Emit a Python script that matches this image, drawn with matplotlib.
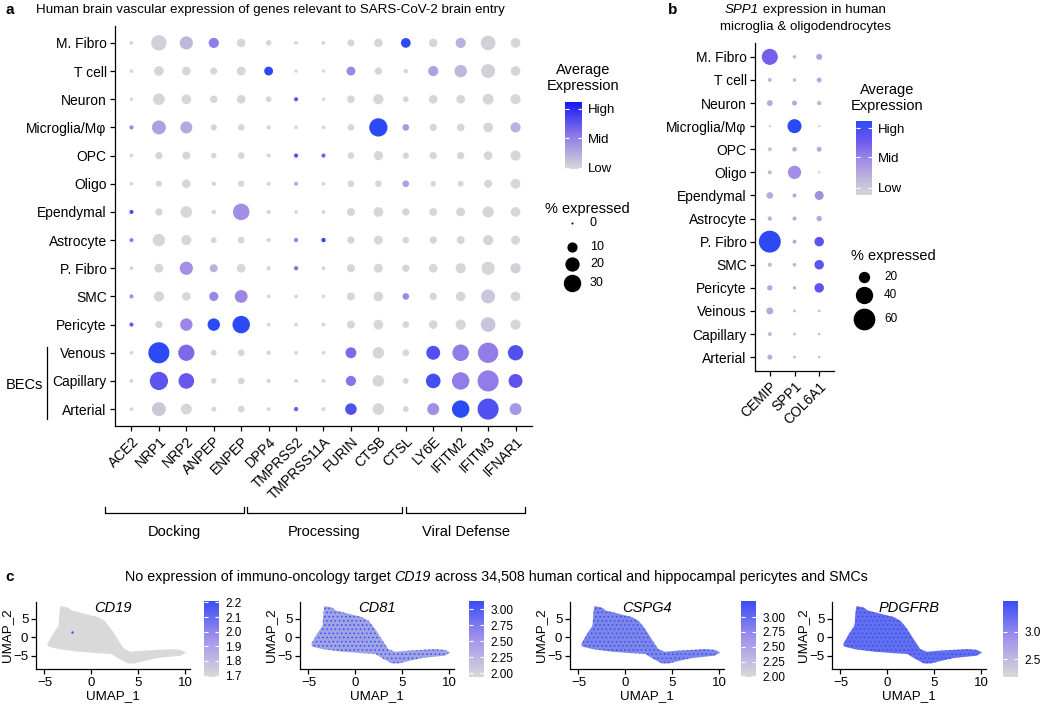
import numpy as np
import matplotlib
matplotlib.use("Agg")
import matplotlib.pyplot as plt
from matplotlib.colors import LinearSegmentedColormap, Normalize, to_rgb
from matplotlib.cm import ScalarMappable
from matplotlib.patches import Polygon

plt.rcParams['font.family'] = ['Liberation Sans', 'DejaVu Sans']
plt.rcParams['hatch.linewidth'] = 0.6

# ---------------- panel a data ----------------
cells_a = ["M. Fibro", "T cell", "Neuron", "Microglia/Mφ", "OPC", "Oligo", "Ependymal",
           "Astrocyte", "P. Fibro", "SMC", "Pericyte", "Venous", "Capillary", "Arterial"]
genes_a = ["ACE2", "NRP1", "NRP2", "ANPEP", "ENPEP", "DPP4", "TMPRSS2", "TMPRSS11A",
           "FURIN", "CTSB", "CTSL", "LY6E", "IFITM2", "IFITM3", "IFNAR1"]
# percent expressed
pct_a = [
    [1.0, 23, 17, 10, 7, 2.6, 1.0, 1.0, 4.5, 7, 9, 7, 10, 21, 9],
    [1.0, 9, 7, 4.5, 7.5, 7.5, 0.8, 0.8, 7.5, 5, 1.5, 10, 15, 19, 9],
    [0.8, 13, 9, 5, 7, 3, 1.3, 0.8, 5.5, 10, 3, 7, 7, 11.5, 10],
    [1.3, 19, 14, 3.5, 4, 1.5, 1.0, 1.0, 4, 33, 4, 5, 5.5, 9, 10],
    [1.0, 5, 6, 2.6, 4, 1.3, 1.3, 1.3, 4, 8, 3.5, 5, 5, 7, 10],
    [1.0, 3.4, 7, 1.5, 3.5, 1.3, 1.3, 1.1, 4, 4, 4, 2.6, 3, 6, 9],
    [1.3, 5, 13, 1.5, 27, 1.3, 1.0, 1.0, 6, 9, 5, 6, 7.5, 12, 9],
    [1.3, 15, 10, 3, 4, 1.5, 1.5, 1.5, 5, 7.5, 4, 5, 6, 10, 7.5],
    [1.0, 7.5, 17, 6, 7, 1.5, 1.5, 1.1, 6, 7.5, 5, 7, 10, 17, 10],
    [1.3, 10, 7, 8, 16, 1.1, 1.1, 1.0, 6, 9, 4, 5, 9, 19, 9],
    [1.3, 5, 15, 15, 30, 1.1, 1.1, 1.1, 6, 9, 4, 7, 10, 21, 10],
    [1.1, 44, 26, 3, 4, 1.5, 1.1, 1.1, 11.5, 13, 4, 19, 27, 41, 23],
    [1.0, 33, 24, 2.6, 4, 1.3, 1.1, 1.1, 10, 13, 3, 21, 30, 44, 19],
    [1.0, 19, 11.5, 2, 4, 1.1, 1.5, 1.3, 13, 13, 3, 14, 30, 44, 14],
]
# scaled average expression (0 = low, 1 = high)
expr_a = [
    [0, .05, .2, .55, 0, 0, 0, 0, 0, 0, 1, 0, .25, .05, 0],
    [0, 0, 0, 0, 0, 1, 0, 0, .5, 0, 0, .35, .2, .05, 0],
    [0, 0, 0, 0, 0, 0, .8, 0, 0, 0, 0, 0, 0, 0, 0],
    [.5, .35, .3, 0, 0, 0, 0, 0, 0, 1, .4, 0, 0, 0, .25],
    [0, 0, 0, 0, 0, 0, .85, .7, 0, 0, 0, 0, 0, 0, 0],
    [0, 0, 0, 0, 0, 0, .3, 0, 0, 0, .35, 0, 0, 0, 0],
    [.9, 0, 0, 0, .45, 0, 0, 0, 0, 0, 0, 0, 0, 0, 0],
    [.55, 0, 0, 0, 0, 0, .5, 1, 0, 0, 0, 0, 0, 0, 0],
    [0, 0, .45, .25, 0, 0, .6, 0, 0, 0, 0, 0, 0, 0, .05],
    [.45, 0, 0, .5, .5, 0, 0, 0, 0, 0, .5, 0, 0, .1, 0],
    [.75, 0, .5, 1, 1, 0, 0, 0, 0, 0, 0, 0, 0, .12, 0],
    [0, 1, .65, 0, 0, 0, 0, 0, .65, 0, 0, .85, .55, .55, .85],
    [0, .8, .75, 0, 0, 0, 0, 0, .6, 0, 0, .9, .55, .55, .8],
    [0, .1, 0, 0, 0, 0, .7, 0, .85, 0, 0, .45, 1, .85, .4],
]
groups_a = [("Docking", 105, 244), ("Processing", 247, 402), ("Viral Defense", 406, 525)]
legend_pct_a = [0, 10, 20, 30]

# ---------------- panel b data ----------------
cells_b = ["M. Fibro", "T cell", "Neuron", "Microglia/Mφ", "OPC", "Oligo", "Ependymal",
           "Astrocyte", "P. Fibro", "SMC", "Pericyte", "Veinous", "Capillary", "Arterial"]
genes_b = ["CEMIP", "SPP1", "COL6A1"]
pct_b = [
    [35, 6.5, 9.2], [7, 6.5, 8], [9.2, 8, 7.4], [5.6, 28, 5.5], [7, 7.4, 8],
    [7, 25.7, 5.5], [10.3, 7, 14.5], [7.4, 7, 8.6], [61, 7, 15.6], [7, 6.5, 15.6],
    [8.6, 6.5, 15.6], [10.8, 6, 5.8], [7, 6, 5.8], [8, 6, 5.8],
]
expr_b = [
    [.7, .25, .35], [.2, .2, .3], [.3, .3, .2], [.1, 1, .1], [.15, .3, .3],
    [.2, .45, .1], [.3, .3, .45], [.25, .3, .3], [1, .3, .8], [.2, .25, .8],
    [.3, .25, .8], [.3, .2, .2], [.2, .2, .2], [.3, .2, .2],
]
legend_pct_b = [20, 40, 60]

# ---------------- panel c data ----------------
umap_genes = ["CD19", "CD81", "CSPG4", "PDGFRB"]
umap_share = [0.0, 0.38, 0.58, 0.75]          # share of expressing (blue) cells
umap_range = [(1.69, 2.21), (1.94, 3.125), (1.99, 3.27), (2.17, 3.57)]
umap_ticks = [[1.7, 1.8, 1.9, 2.0, 2.1, 2.2], [2.0, 2.25, 2.5, 2.75, 3.0],
              [2.0, 2.25, 2.5, 2.75, 3.0], [2.5, 3.0]]
umap_fmt = ["%.1f", "%.2f", "%.2f", "%.1f"]
# outline of the cell cloud
umap_x = [-3.3, -2.5, -2.1, -0.7, 0.7, 1.4, 2.1, 2.8, 3.5, 4.2, 5.7, 8.5, 9.5, 10.1,
          9.5, 7.1, 5.7, 4.6, 3.9, 3.0, 2.1, 0.7, -1.4, -3.5, -4.6, -4.7, -4.1, -3.5, -3.4]
umap_y = [8.5, 8.1, 7.3, 6.4, 5.5, 4.5, 2.3, -0.5, -3.2, -3.9, -3.6, -3.2, -3.4, -4.1,
          -5.0, -5.6, -6.4, -7.1, -7.1, -5.9, -4.5, -4.3, -3.9, -3.2, -2.5, -1.8, 0.9, 3.2, 6.8]
cd19_cell = (-2.1, 1.5)

# ---------------- helpers ----------------
W, H = 1050, 707
fig = plt.figure(figsize=(W / 100, H / 100), dpi=100)
renderer = fig.canvas.get_renderer()


def rect(l, t, w, h):
    return [l / W, 1 - (t + h) / H, w / W, h / H]


def s_a(p):
    d = np.sqrt(4 + 10 * np.asarray(p, float))
    return (d * 0.72) ** 2


def s_b(p):
    d = np.sqrt(np.maximum(8.6 * np.asarray(p, float) - 44, 5))
    return (d * 0.72) ** 2


dot_cmap = LinearSegmentedColormap.from_list(
    "dot", [(0, "#D6D6D6"), (0.25, "#BBB1DE"), (0.5, "#9C86E6"), (0.75, "#6A56EE"), (1, "#2B4AF5")])
bar_a_cmap = LinearSegmentedColormap.from_list(
    "bara", [(0, "#D8D8D8"), (0.5, "#8C7AE6"), (1, "#1616F2")])
umap_cmap = LinearSegmentedColormap.from_list(
    "umap", [(0, "#D9D9D9"), (0.5, "#A294EA"), (1, "#3A4CF5")])

ov = fig.add_axes([0, 0, 1, 1])
ov.set_xlim(0, W)
ov.set_ylim(H, 0)
ov.axis("off")


def rich_text(xc, y, parts, fs):
    # draw pieces of mixed upright / italic text centred on xc
    items = []
    total = 0
    for s, st in parts:
        t = ov.text(0, y, s, fontsize=fs, style=st, va="center", ha="left")
        w = t.get_window_extent(renderer=renderer).width
        items.append((t, w))
        total += w
    x = xc - total / 2
    for t, w in items:
        t.set_x(x)
        x += w


def style_axes(ax):
    for sp in ["top", "right"]:
        ax.spines[sp].set_visible(False)
    for sp in ["left", "bottom"]:
        ax.spines[sp].set_linewidth(0.9)
    ax.tick_params(length=3.5, width=0.9, color="black", labelcolor="black")


def add_bar(l, t, w, h, cmap, norm, ticks, labels, fs):
    cax = fig.add_axes(rect(l, t, w, h))
    cb = fig.colorbar(ScalarMappable(norm=norm, cmap=cmap), cax=cax)
    cb.outline.set_visible(False)
    cb.set_ticks(ticks)
    cb.set_ticklabels(labels)
    cax.tick_params(axis="y", direction="in", color="white", length=3, width=0.8,
                    left=True, right=True, labelsize=fs, pad=4.5)
    return cb


# ---------------- panel a ----------------
axA = fig.add_axes(rect(115, 26, 417, 400))
gx, gy = np.meshgrid(np.arange(len(genes_a)), np.arange(len(cells_a)))
axA.scatter(gx.ravel(), gy.ravel(), s=s_a(np.ravel(pct_a)), c=np.ravel(expr_a),
            cmap=dot_cmap, vmin=0, vmax=1, linewidths=0)
axA.set_xlim(-0.6, len(genes_a) - 0.4)
axA.set_ylim(len(cells_a) - 0.4, -0.6)
axA.set_xticks(range(len(genes_a)))
axA.set_xticklabels(genes_a, rotation=45, ha="right", va="top", rotation_mode="anchor")
axA.set_yticks(range(len(cells_a)))
axA.set_yticklabels(cells_a)
style_axes(axA)
axA.tick_params(labelsize=10, pad=2.5)

ov.text(5, 10, "a", fontsize=11, fontweight="bold", va="center")
ov.text(36, 10, "Human brain vascular expression of genes relevant to SARS-CoV-2 brain entry",
        fontsize=9.6, va="center")
ov.plot([47, 47], [347, 419], color="black", lw=0.9)
ov.text(24, 385, "BECs", fontsize=10.5, ha="center", va="center")
for name, x0, x1 in groups_a:
    ov.plot([x0, x0, x1, x1], [507, 513, 513, 507], color="black", lw=0.9)
    ov.text((x0 + x1) / 2, 532, name, fontsize=10.5, ha="center", va="center")

ov.text(583, 78, "Average\nExpression", fontsize=10.5, ha="center", va="center")
add_bar(565, 102, 17, 67, bar_a_cmap, Normalize(0, 1), [0.015, 0.46, 0.9],
        ["Low", "Mid", "High"], 9.5)
ov.text(587, 209, "% expressed", fontsize=10.5, ha="center", va="center")
for p, y in zip(legend_pct_a, [223, 247, 264, 283]):
    ov.scatter([572], [y], s=s_a(p), color="black", linewidths=0)
    ov.text(590, y, str(p), fontsize=9, va="center")

# ---------------- panel b ----------------
axB = fig.add_axes(rect(755, 43, 79, 328))
gx, gy = np.meshgrid(np.arange(len(genes_b)), np.arange(len(cells_b)))
axB.scatter(gx.ravel(), gy.ravel(), s=s_b(np.ravel(pct_b)), c=np.ravel(expr_b),
            cmap=dot_cmap, vmin=0, vmax=1, linewidths=0)
axB.set_xlim(-0.6, len(genes_b) - 0.4)
axB.set_ylim(len(cells_b) - 0.4, -0.6)
axB.set_xticks(range(len(genes_b)))
axB.set_xticklabels(genes_b, rotation=45, ha="right", va="top", rotation_mode="anchor")
axB.set_yticks(range(len(cells_b)))
axB.set_yticklabels(cells_b)
style_axes(axB)
axB.tick_params(labelsize=10, pad=2.5)

ov.text(668, 10, "b", fontsize=11, fontweight="bold", va="center")
rich_text(805, 10, [("SPP1", "italic"), (" expression in human", "normal")], 9.6)
ov.text(805, 27, "microglia & oligodendrocytes", fontsize=9.6, ha="center", va="center")
ov.text(887, 98, "Average\nExpression", fontsize=10.5, ha="center", va="center")
add_bar(856, 121, 16, 74, dot_cmap, Normalize(0, 1), [0.095, 0.51, 0.905],
        ["Low", "Mid", "High"], 9.5)
ov.text(893, 256, "% expressed", fontsize=10.5, ha="center", va="center")
for p, y in zip(legend_pct_b, [277, 295, 319]):
    ov.scatter([864], [y], s=s_b(p), color="black", linewidths=0)
    ov.text(884, y, str(p), fontsize=8.5, va="center")

# ---------------- panel c ----------------
ov.text(5, 577, "c", fontsize=11, fontweight="bold", va="center")
rich_text(496, 577, [("No expression of immuno-oncology target ", "normal"),
                     ("CD19", "italic"),
                     (" across 34,508 human cortical and hippocampal pericytes and SMCs", "normal")],
          10.3)

grey = np.array(to_rgb("#D9D9D9"))
blue = np.array(to_rgb("#3A4CF5"))
ax_left = [36, 300, 570, 832]
bar_left = [204, 469, 741, 1003]
outline = np.column_stack([umap_x, umap_y])
for i, gene in enumerate(umap_genes):
    ax = fig.add_axes(rect(ax_left[i], 602, 154, 67))
    share = umap_share[i]
    face = grey * (1 - share) + blue * share
    if share > 0:
        ax.add_patch(Polygon(outline, closed=True, facecolor=face, edgecolor="#3A4CF5",
                             lw=0, hatch="...."))
    else:
        ax.add_patch(Polygon(outline, closed=True, facecolor=face, lw=0))
        ax.scatter([cd19_cell[0]], [cd19_cell[1]], s=3, color="#3A4CF5", linewidths=0)
    ax.set_xlim(-5.9, 10.5)
    ax.set_ylim(-8.6, 9.6)
    ax.set_xticks([-5, 0, 5, 10])
    ax.set_yticks([-5, 0, 5])
    style_axes(ax)
    ax.tick_params(labelsize=9.5, pad=2)
    ax.set_xlabel("UMAP_1", fontsize=9.6, labelpad=1)
    ax.set_ylabel("UMAP_2", fontsize=9.6, labelpad=0)
    ax.text(0.5, 1 - 6 / 67, gene, transform=ax.transAxes, ha="center", va="center",
            fontsize=10.5, style="italic")
    lo, hi = umap_range[i]
    add_bar(bar_left[i], 601, 15, 76, umap_cmap, Normalize(lo, hi), umap_ticks[i],
            [umap_fmt[i] % t for t in umap_ticks[i]], 8.5)

fig.savefig("out.png", dpi=100)
